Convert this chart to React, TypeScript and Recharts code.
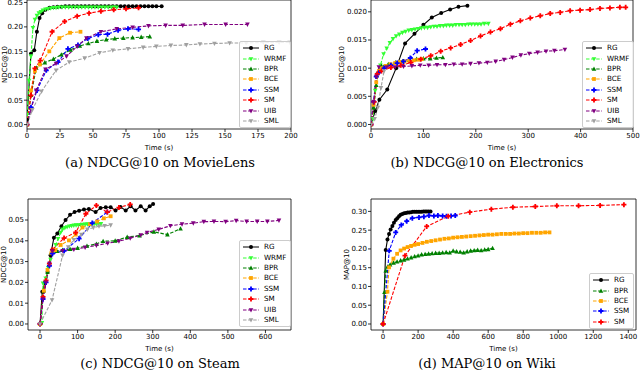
import React from 'react';
import { LineChart, Line, XAxis, YAxis, Legend, ReferenceArea } from 'recharts';

type Pt = [number, number];

// ---------- (a) MovieLens, NDCG@10 ----------
const mlRG: Pt[] = [[0,0.01],[3,0.145],[5.5,0.152],[7.5,0.19],[9.5,0.218],[11.5,0.228],[14,0.235],[17,0.239],[20,0.24],[23,0.241],[26,0.241],[29,0.242],[32,0.242],[35,0.242],[38,0.242],[41,0.242],[44,0.242],[47,0.242],[50,0.242],[53,0.242],[56,0.242],[59,0.242],[62,0.242],[65,0.242],[68,0.242],[71,0.242],[74,0.242],[77,0.242],[80,0.242],[83,0.242],[86,0.242],[89,0.242],[92,0.242],[95,0.242],[98,0.242],[102,0.242]];
const mlWRMF: Pt[] = [[0,0.02],[1.5,0.09],[3,0.14],[4.5,0.198],[6,0.215],[7.5,0.223],[9,0.228],[10.5,0.231],[12,0.234],[14,0.236],[16,0.237],[18,0.238],[20,0.239],[22,0.239],[24,0.24],[26.5,0.24],[29,0.24],[31.5,0.24],[34,0.24],[36.5,0.24],[39,0.24],[41.5,0.24],[44,0.24],[46.5,0.24],[49,0.24],[51.5,0.24],[54,0.24],[56.5,0.24],[59,0.24],[61.5,0.24],[64,0.24],[66,0.24],[68,0.24]];
const mlBPR: Pt[] = [[0,0],[3,0.06],[7,0.116],[13.5,0.127],[20,0.134],[26,0.143],[33,0.153],[40,0.161],[46.5,0.166],[53,0.171],[60,0.174],[66.5,0.176],[73,0.177],[80,0.178],[86.5,0.179],[93,0.18]];
const mlBCE: Pt[] = [[0,0],[3,0.07],[6,0.11],[9.8,0.123],[16.9,0.15],[24.5,0.177],[32.6,0.188],[40.5,0.19]];
const mlSSM: Pt[] = [[0,0],[3,0.035],[7.6,0.07],[14.6,0.111],[23.5,0.128],[31,0.155],[38.6,0.163],[46,0.176],[54,0.184],[61,0.185],[69,0.193],[76.5,0.196],[84.5,0.195]];
const mlSM: Pt[] = [[0,0],[3,0.06],[6,0.115],[10,0.131],[19,0.19],[28.5,0.211],[38,0.222],[47,0.228],[56,0.232],[65.7,0.235],[75,0.237],[84.5,0.239]];
const mlUIB: Pt[] = [[0,0],[3,0.03],[7,0.07],[14,0.113],[22,0.125],[30,0.14],[38,0.16],[45,0.177],[56,0.19],[68,0.196],[80,0.199],[92,0.202],[105,0.203],[118,0.203],[134.5,0.205],[150.5,0.205],[167,0.205]];
const mlSML: Pt[] = [[0,0],[4,0.03],[11,0.068],[22,0.111],[32,0.128],[43.7,0.136],[55,0.147],[65,0.152],[76.5,0.155],[88,0.158],[98,0.16],[109,0.162],[120.7,0.163],[131,0.165],[142,0.166],[153.5,0.167],[166,0.167],[179,0.168],[191,0.168],[199,0.168]];

// ---------- (b) Electronics, NDCG@10 ----------
const elRG: Pt[] = [[0,0],[8,0.0024],[16,0.0044],[31,0.0062],[48,0.01],[65,0.0144],[83,0.0161],[100,0.0177],[116,0.019],[134,0.0198],[151,0.0204],[167,0.0209],[184,0.0211]];
const elWRMF: Pt[] = [[0,0],[4,0.001],[8,0.006],[13,0.009],[18,0.0105],[24,0.0125],[30,0.0135],[36,0.0145],[42,0.0152],[48,0.0157],[54,0.016],[60,0.0163],[66,0.0165],[72,0.0167],[78,0.0168],[84,0.0169],[90,0.017],[96,0.0171],[102,0.0172],[108,0.0172],[114,0.0173],[120,0.0174],[126,0.0174],[132,0.0175],[138,0.0175],[144,0.0176],[150,0.0176],[156,0.0176],[162,0.0177],[168,0.0177],[174,0.0177],[180,0.0177],[186,0.0178],[192,0.0178],[198,0.0178],[204,0.0178],[210,0.0178],[216,0.0179],[224,0.0179]];
const elBPR: Pt[] = [[0,0],[5,0.003],[10,0.007],[15,0.0095],[20,0.0104],[33,0.0107],[47,0.011],[60,0.0112],[73,0.0114],[87,0.0116],[100,0.0117],[113,0.0117],[125,0.0118],[137,0.0119]];
const elBCE: Pt[] = [[0,0],[5,0.0035],[10,0.0075],[15,0.0095],[20,0.01],[28,0.0104],[37,0.0107],[46,0.0109],[55,0.0111],[64,0.0112],[73,0.0113],[82,0.0114],[90,0.0115],[97,0.0116]];
const elSSM: Pt[] = [[0,0],[5,0.004],[10,0.0085],[15,0.0092],[25,0.01],[38,0.0105],[50,0.0109],[62,0.0112],[75,0.0118],[88,0.0131],[104,0.0134]];
const elSM: Pt[] = [[0,0],[6,0.004],[12,0.009],[20,0.0095],[38,0.0101],[57,0.0105],[76,0.011],[95,0.0116],[114,0.0122],[133,0.013],[152,0.0136],[171,0.0142],[190,0.0149],[209,0.0157],[228,0.0164],[247,0.017],[266,0.0178],[285,0.0184],[304,0.0189],[323,0.0193],[342,0.0197],[361,0.0199],[380,0.0202],[399,0.0203],[418,0.0204],[437,0.0206],[456,0.0207],[475,0.0208],[486,0.0208]];
const elUIB: Pt[] = [[0,0],[5,0.004],[10,0.0085],[15,0.0102],[30,0.0102],[46,0.0102],[62,0.0103],[78,0.0104],[94,0.0105],[110,0.0105],[126,0.0106],[142,0.0106],[158,0.0107],[174,0.0107],[190,0.0108],[206,0.0109],[222,0.011],[238,0.0112],[254,0.0115],[270,0.0119],[286,0.0123],[302,0.0126],[318,0.0128],[334,0.013],[350,0.0131],[370,0.0133]];
const elSML: Pt[] = [[0,0],[7,0.001],[13,0.003],[19,0.0065],[25,0.0095]];

// ---------- (c) Steam, NDCG@10 ----------
const stRG: Pt[] = [[0,0],[6,0.0155],[13,0.02],[20,0.025],[28,0.033],[37,0.0415],[46,0.0435],[57,0.047],[68,0.05],[80,0.0525],[92,0.0538],[104,0.0545],[117,0.055],[130,0.0553],[148,0.0538],[161,0.0558],[175,0.0561],[188,0.0561],[201,0.0546],[214,0.0563],[228,0.0546],[241,0.0566],[254,0.0546],[268,0.0566],[281,0.0546],[292,0.0566],[301,0.0577]];
const stWRMF: Pt[] = [[0,0],[5,0.0005],[8,0.0195],[15,0.022],[22,0.027],[28,0.031],[35,0.035],[42,0.038],[48,0.041],[55,0.044],[60,0.0455],[66,0.0462],[72,0.0466],[78,0.047],[84,0.0472],[90,0.0474],[96,0.0475],[102,0.0476],[108,0.0477],[114,0.0478],[120,0.0479],[126,0.048],[132,0.048],[138,0.048],[144,0.0481],[150,0.0481],[156,0.0481],[162,0.0481]];
const stBPR: Pt[] = [[0,0],[10,0.016],[20,0.025],[30,0.034],[45,0.035],[60,0.0355],[80,0.036],[100,0.0365],[125,0.0375],[150,0.0385],[168,0.0398],[200,0.04],[232,0.0418],[265,0.0425],[303,0.0443],[339,0.043],[374,0.0458]];
const stBCE: Pt[] = [[0,0],[10,0.016],[20,0.026],[30,0.034],[40,0.0355],[55,0.038],[77,0.0402],[95,0.043],[113,0.0464],[133,0.048],[152,0.0493],[170,0.0508],[188,0.0518]];
const stSSM: Pt[] = [[0,0],[8,0.012],[16,0.02],[25,0.028],[33,0.0338],[64,0.0352],[104,0.041],[139,0.0485],[179,0.0538]];
const stSM: Pt[] = [[0,0],[8,0.013],[16,0.021],[25,0.029],[33,0.0357],[64,0.0413],[95,0.044],[122,0.053],[150,0.057],[179,0.0538],[210,0.056],[240,0.0575]];
const stUIB: Pt[] = [[0,0],[8,0.012],[16,0.02],[25,0.029],[33,0.035],[60,0.0352],[90,0.0358],[120,0.0368],[150,0.0378],[180,0.0388],[210,0.0398],[240,0.0412],[268,0.0428],[285,0.044],[316,0.0455],[347,0.0472],[378,0.048],[408,0.0485],[436,0.0492],[463,0.0493],[494,0.0492],[522,0.0497],[550,0.0493],[578,0.0493],[605,0.0493],[636,0.0498]];
const stSML: Pt[] = [[0,0],[32,0.0115],[60,0.033],[75,0.037],[90,0.0405],[110,0.043],[126,0.0455],[142,0.0463],[157,0.047],[172,0.0472],[188,0.0475]];

// ---------- (d) Wiki, MAP@10 ----------
const wkRG: Pt[] = [[0,0],[15,0.197],[25,0.225],[34,0.24],[43,0.252],[53,0.261],[62,0.27],[72,0.277],[81,0.282],[91,0.287],[100,0.291],[110,0.293],[120,0.295],[130,0.296],[140,0.297],[150,0.297],[160,0.298],[170,0.299],[180,0.299],[190,0.299],[200,0.299],[210,0.299],[220,0.299],[230,0.3],[240,0.3],[250,0.3],[260,0.3],[271,0.3]];
const wkBPR: Pt[] = [[0,0],[8,0.085],[15,0.142],[25,0.152],[40,0.158],[60,0.163],[80,0.166],[100,0.169],[120,0.171],[140,0.174],[160,0.177],[180,0.18],[200,0.182],[220,0.185],[240,0.186],[260,0.187],[280,0.188],[300,0.189],[320,0.189],[340,0.19],[360,0.191],[380,0.19],[400,0.195],[420,0.193],[440,0.192],[460,0.19],[480,0.193],[500,0.195],[520,0.196],[540,0.197],[560,0.196],[580,0.198],[600,0.199],[625,0.202]];
const wkBCE: Pt[] = [[0,0],[25,0.086],[34,0.151],[59,0.174],[80,0.187],[100,0.196],[120,0.201],[140,0.205],[160,0.208],[180,0.211],[200,0.213],[225,0.216],[250,0.219],[275,0.221],[300,0.223],[325,0.225],[350,0.227],[375,0.228],[400,0.23],[425,0.231],[450,0.232],[475,0.233],[500,0.234],[525,0.235],[550,0.236],[575,0.237],[600,0.238],[625,0.238],[650,0.239],[675,0.24],[700,0.24],[725,0.24],[750,0.241],[775,0.241],[800,0.242],[825,0.242],[850,0.243],[875,0.243],[900,0.243],[925,0.244],[950,0.244]];
const wkSSM: Pt[] = [[0,0],[35,0.195],[72,0.244],[104,0.264],[135,0.274],[167,0.282],[205,0.284],[233,0.286],[262,0.289],[290,0.288],[313,0.289],[340,0.288],[362,0.287],[388,0.288],[412,0.289]];
const wkSM: Pt[] = [[0,0],[125,0.182],[249,0.26],[372,0.287],[495,0.298],[618,0.306],[741,0.311],[869,0.313],[992,0.315],[1116,0.315],[1239,0.316],[1375,0.318]];

// ---------- ticks ----------
const mlXTicks = [0, 25, 50, 75, 100, 125, 150, 175, 200];
const mlYTicks = [0, 0.05, 0.1, 0.15, 0.2, 0.25];
const elXTicks = [0, 100, 200, 300, 400, 500];
const elYTicks = [0, 0.005, 0.01, 0.015, 0.02];
const stXTicks = [0, 100, 200, 300, 400, 500, 600];
const stYTicks = [0, 0.01, 0.02, 0.03, 0.04, 0.05];
const wkXTicks = [0, 200, 400, 600, 800, 1000, 1200, 1400];
const wkYTicks = [0, 0.05, 0.1, 0.15, 0.2, 0.25, 0.3];

const STYLE: Record<string, { color: string; shape: string; dash: boolean }> = {
  RG: { color: '#000000', shape: 'o', dash: false },
  WRMF: { color: '#33ff33', shape: 'v', dash: true },
  BPR: { color: '#008000', shape: '^', dash: true },
  BCE: { color: '#ffa500', shape: 's', dash: true },
  SSM: { color: '#0000ff', shape: 'P', dash: true },
  SM: { color: '#ff0000', shape: 'P', dash: true },
  UIB: { color: '#800080', shape: 'v', dash: true },
  SML: { color: '#a0a0a0', shape: 'v', dash: true },
};

const FONT = 'DejaVu Sans';

function Marker({ shape, cx, cy, color }: { shape: string; cx: number; cy: number; color: string }) {
  const s = 2.3;
  if (shape === 'o') return <circle cx={cx} cy={cy} r={2} fill={color} />;
  if (shape === 'v')
    return <polygon points={`${cx - s},${cy - s * 0.8} ${cx + s},${cy - s * 0.8} ${cx},${cy + s * 1.1}`} fill={color} />;
  if (shape === '^')
    return <polygon points={`${cx - s},${cy + s * 0.8} ${cx + s},${cy + s * 0.8} ${cx},${cy - s * 1.1}`} fill={color} />;
  if (shape === 's') return <rect x={cx - 1.9} y={cy - 1.9} width={3.8} height={3.8} fill={color} />;
  const a = 2.5, w = 0.9;
  const d = `M${cx - w},${cy - a}H${cx + w}V${cy - w}H${cx + a}V${cy + w}H${cx + w}V${cy + a}H${cx - w}V${cy + w}H${cx - a}V${cy - w}H${cx - w}Z`;
  return <path d={d} fill={color} />;
}

function LegendSwatch({ name }: { name: string }) {
  const st = STYLE[name];
  return (
    <svg width={16} height={8} style={{ display: 'block' }}>
      <line x1={0} y1={4} x2={16} y2={4} stroke={st.color} strokeWidth={1} strokeDasharray={st.dash ? '3.5 1.6' : undefined} />
      <Marker shape={st.shape} cx={8} cy={4} color={st.color} />
    </svg>
  );
}

type Series = { name: string; data: Pt[] };
type PanelCfg = {
  left: number; top: number; width: number; height: number;
  margin: { top: number; right: number; bottom: number; left: number };
  yWidth: number; yLabelOffset: number;
  xDomain: [number, number]; yDomain: [number, number];
  xTicks: number[]; yTicks: number[]; yDigits: number; yLabel: string;
  series: Series[]; legendLeft: number; legendTop: number;
};

const rows = (pts: Pt[]) => pts.map(([x, y]) => ({ x, y }));

function Panel({ cfg }: { cfg: PanelCfg }) {
  const tickStyle = { fontSize: 7, fill: '#000', fontFamily: FONT };
  const names = cfg.series.map((s) => s.name);
  return (
    <div style={{ position: 'absolute', left: cfg.left, top: cfg.top }}>
      <LineChart width={cfg.width} height={cfg.height} margin={cfg.margin} style={{ fontFamily: FONT }}>
        <XAxis
          type="number" dataKey="x" domain={cfg.xDomain} ticks={cfg.xTicks} allowDataOverflow
          axisLine={false} tickLine={{ stroke: '#000', strokeWidth: 0.8 }} tickSize={3} tickMargin={1}
          height={21} tick={tickStyle} interval={0}
          label={{ value: 'Time (s)', position: 'insideBottom', offset: 0, style: { fontSize: 7, fill: '#000', fontFamily: FONT } }}
        />
        <YAxis
          type="number" dataKey="y" domain={cfg.yDomain} ticks={cfg.yTicks} allowDataOverflow
          axisLine={false} tickLine={{ stroke: '#000', strokeWidth: 0.8 }} tickSize={3} tickMargin={1}
          width={cfg.yWidth} tick={tickStyle} interval={0}
          tickFormatter={(v: number) => v.toFixed(cfg.yDigits)}
          label={{ value: cfg.yLabel, angle: -90, position: 'insideLeft', offset: cfg.yLabelOffset, style: { fontSize: 7, fill: '#000', fontFamily: FONT, textAnchor: 'middle' } }}
        />
        <ReferenceArea x1={cfg.xDomain[0]} x2={cfg.xDomain[1]} y1={cfg.yDomain[0]} y2={cfg.yDomain[1]} fill="none" stroke="#000" strokeWidth={0.8} strokeOpacity={1} ifOverflow="visible" />
        {cfg.series.map((s) => {
          const st = STYLE[s.name];
          return (
            <Line
              key={s.name} name={s.name} data={rows(s.data)} dataKey="y" type="linear"
              stroke={st.color} strokeWidth={1.1} strokeDasharray={st.dash ? '3.5 1.6' : undefined}
              isAnimationActive={false} activeDot={false}
              dot={(p: any) => (p.cx == null || p.cy == null ? <g key={`${s.name}-${p.index}`} /> :
                <Marker key={`${s.name}-${p.index}`} shape={st.shape} cx={p.cx} cy={p.cy} color={st.color} />)}
            />
          );
        })}
        <Legend
          layout="vertical" align="center" verticalAlign="middle"
          wrapperStyle={{ left: cfg.legendLeft, top: cfg.legendTop, width: 'auto', height: 'auto' }}
          content={() => (
            <div style={{ background: 'rgba(255,255,255,0.85)', border: '1px solid #cccccc', borderRadius: 2, padding: '1px 4px 1px 3px', fontFamily: FONT, fontSize: 7.2, color: '#000' }}>
              {names.map((n) => (
                <div key={n} style={{ display: 'flex', alignItems: 'center', height: 10.4 }}>
                  <LegendSwatch name={n} />
                  <span style={{ marginLeft: 5, lineHeight: '8px' }}>{n}</span>
                </div>
              ))}
            </div>
          )}
        />
      </LineChart>
    </div>
  );
}

const ALL = ['RG', 'WRMF', 'BPR', 'BCE', 'SSM', 'SM', 'UIB', 'SML'];
const mk = (names: string[], data: Pt[][]): Series[] => names.map((n, i) => ({ name: n, data: data[i] }));

const panels: PanelCfg[] = [
  {
    left: 0, top: 0, width: 320, height: 175,
    margin: { top: 0, right: 29, bottom: 25, left: 0 }, yWidth: 27, yLabelOffset: 5,
    xDomain: [0, 200], yDomain: [-0.009, 0.255], xTicks: mlXTicks, yTicks: mlYTicks, yDigits: 2, yLabel: 'NDCG@10',
    series: mk(ALL, [mlRG, mlWRMF, mlBPR, mlBCE, mlSSM, mlSM, mlUIB, mlSML]), legendLeft: 239, legendTop: 41,
  },
  {
    left: 320, top: 0, width: 320, height: 175,
    margin: { top: 0, right: 7, bottom: 25, left: 0 }, yWidth: 51, yLabelOffset: 22,
    xDomain: [0, 500], yDomain: [-0.0008, 0.0221], xTicks: elXTicks, yTicks: elYTicks, yDigits: 3, yLabel: 'NDCG@10',
    series: mk(ALL, [elRG, elWRMF, elBPR, elBCE, elSSM, elSM, elUIB, elSML]), legendLeft: 262, legendTop: 41,
  },
  {
    left: 0, top: 195, width: 320, height: 180,
    margin: { top: 4, right: 29, bottom: 24, left: 0 }, yWidth: 28, yLabelOffset: 4,
    xDomain: [-32, 668], yDomain: [-0.0029, 0.0601], xTicks: stXTicks, yTicks: stYTicks, yDigits: 2, yLabel: 'NDCG@10',
    series: mk(ALL, [stRG, stWRMF, stBPR, stBCE, stSSM, stSM, stUIB, stSML]), legendLeft: 239, legendTop: 45,
  },
  {
    left: 320, top: 195, width: 320, height: 180,
    margin: { top: 4, right: 4, bottom: 24, left: 0 }, yWidth: 51, yLabelOffset: 27,
    xDomain: [-69, 1444], yDomain: [-0.016, 0.333], xTicks: wkXTicks, yTicks: wkYTicks, yDigits: 2, yLabel: 'MAP@10',
    series: mk(['RG', 'BPR', 'BCE', 'SSM', 'SM'], [wkRG, wkBPR, wkBCE, wkSSM, wkSM]), legendLeft: 269, legendTop: 78,
  },
];

const captions = [
  { text: '(a) NDCG@10 on MovieLens', x: 160, y: 163 },
  { text: '(b) NDCG@10 on Electronics', x: 487, y: 163 },
  { text: '(c) NDCG@10 on Steam', x: 160, y: 364 },
  { text: '(d) MAP@10 on Wiki', x: 487, y: 364 },
];

export default function App() {
  return (
    <div style={{ position: 'absolute', left: 0, top: 0, width: 640, height: 375, background: '#fff', overflow: 'hidden' }}>
      {panels.map((p, i) => <Panel key={i} cfg={p} />)}
      {captions.map((c) => (
        <div key={c.text} style={{ position: 'absolute', left: c.x - 150, top: c.y - 9, width: 300, height: 18, lineHeight: '18px', textAlign: 'center', fontFamily: 'DejaVu Serif', fontSize: 13, color: '#000', whiteSpace: 'nowrap' }}>
          {c.text}
        </div>
      ))}
    </div>
  );
}
